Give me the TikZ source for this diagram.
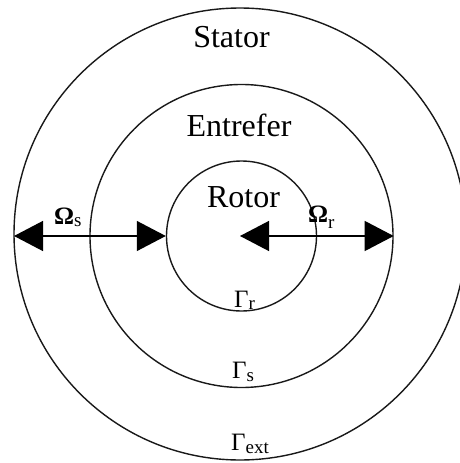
\documentclass[tikz,border=0pt]{standalone}
\usepackage{fontspec}
\setmainfont{Liberation Serif}
\usetikzlibrary{arrows.meta}
\newcommand{\lowsub}[2][4pt]{\raisebox{-#1}{\fontsize{19}{19}\selectfont #2}}
\begin{document}
\begin{tikzpicture}[x=1pt,y=1pt,
  ring/.style={draw=black!90, line width=1.4pt, circle, inner sep=0pt, minimum size=#1},
  word/.style={font=\fontsize{32}{36}\selectfont, inner sep=0pt, anchor=base},
  greek/.style={font=\fontsize{25}{28}\selectfont, inner sep=0pt, anchor=base west},
  dim/.style={line width=1.3pt, {Triangle[length=29pt,width=30pt]}-{Triangle[length=29pt,width=30pt]}}]
\useasboundingbox (0,0) rectangle (460,-463);
\clip (0,0) rectangle (460,-463);
% circles
\node[ring=452pt] (outer) at (240,-234) {};
\node[ring=303pt] (middle) at (241.5,-236) {};
\node[ring=150pt] (rotor) at (241.5,-236) {};
\coordinate (ctr) at (240,-236);
\coordinate (outerL) at (14,-236);
% dimension arrows
\draw[dim] (outerL) -- (rotor.west);
\draw[dim] (ctr) -- (middle.east);
% labels
\node[word] (stator) at (231.5,-47) {Stator};
\node[word] (entrefer) at (239,-136) {Entrefer};
\node[word] (rotortxt) at (243.5,-207) {Rotor};
\node[greek] (omegas) at (54,-224) {\textbf{Ω}\lowsub[2pt]{s}};
\node[greek] (omegar) at (308,-222) {\textbf{Ω}\lowsub[6pt]{r}};
\node[greek] (gammar) at (234,-307) {Γ\lowsub[2pt]{r}};
\node[greek] (gammas) at (232,-378) {Γ\lowsub[3pt]{s}};
\node[greek] (gammaext) at (231,-450) {Γ\lowsub[3pt]{ext}};
\end{tikzpicture}
\end{document}
